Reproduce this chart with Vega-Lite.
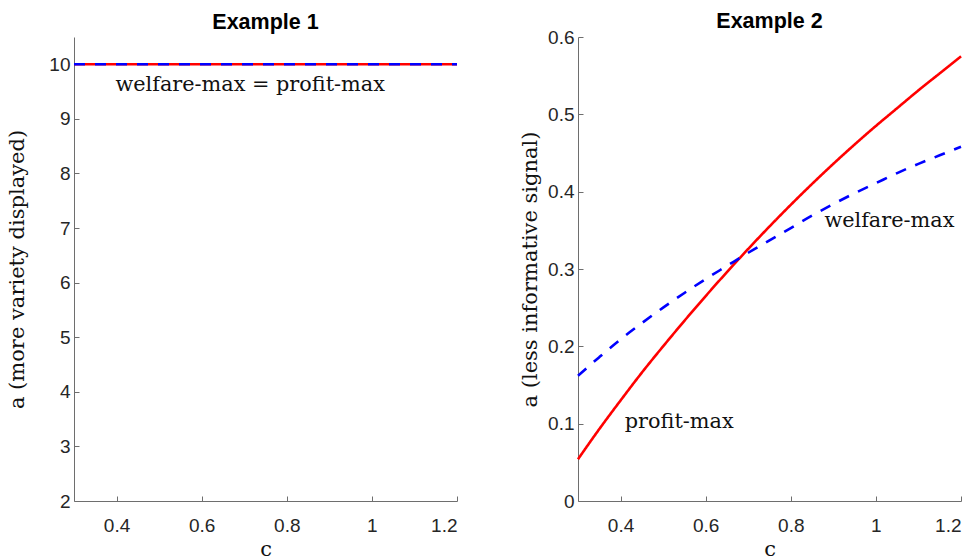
{
  "$schema": "https://vega.github.io/schema/vega-lite/v6.json",
  "background": "white",
  "padding": {"left": 5, "top": 10, "right": 5, "bottom": 0},
  "spacing": 55,
  "datasets": {
    "ex1": [
      {"c": 0.3, "a": 10, "series": "profit-max"},
      {"c": 1.2, "a": 10, "series": "profit-max"},
      {"c": 0.3, "a": 10, "series": "welfare-max"},
      {"c": 1.2, "a": 10, "series": "welfare-max"}
    ],
    "ex2": [
      {"c": 0.30, "a": 0.054, "series": "profit-max"},
      {"c": 0.35, "a": 0.093, "series": "profit-max"},
      {"c": 0.40, "a": 0.130, "series": "profit-max"},
      {"c": 0.45, "a": 0.166, "series": "profit-max"},
      {"c": 0.50, "a": 0.200, "series": "profit-max"},
      {"c": 0.55, "a": 0.233, "series": "profit-max"},
      {"c": 0.60, "a": 0.265, "series": "profit-max"},
      {"c": 0.65, "a": 0.296, "series": "profit-max"},
      {"c": 0.70, "a": 0.326, "series": "profit-max"},
      {"c": 0.75, "a": 0.355, "series": "profit-max"},
      {"c": 0.80, "a": 0.383, "series": "profit-max"},
      {"c": 0.85, "a": 0.410, "series": "profit-max"},
      {"c": 0.90, "a": 0.436, "series": "profit-max"},
      {"c": 0.95, "a": 0.461, "series": "profit-max"},
      {"c": 1.00, "a": 0.485, "series": "profit-max"},
      {"c": 1.05, "a": 0.508, "series": "profit-max"},
      {"c": 1.10, "a": 0.531, "series": "profit-max"},
      {"c": 1.15, "a": 0.553, "series": "profit-max"},
      {"c": 1.20, "a": 0.575, "series": "profit-max"},
      {"c": 0.30, "a": 0.162, "series": "welfare-max"},
      {"c": 0.35, "a": 0.186, "series": "welfare-max"},
      {"c": 0.40, "a": 0.209, "series": "welfare-max"},
      {"c": 0.45, "a": 0.230, "series": "welfare-max"},
      {"c": 0.50, "a": 0.250, "series": "welfare-max"},
      {"c": 0.55, "a": 0.269, "series": "welfare-max"},
      {"c": 0.60, "a": 0.287, "series": "welfare-max"},
      {"c": 0.65, "a": 0.304, "series": "welfare-max"},
      {"c": 0.70, "a": 0.321, "series": "welfare-max"},
      {"c": 0.75, "a": 0.337, "series": "welfare-max"},
      {"c": 0.80, "a": 0.353, "series": "welfare-max"},
      {"c": 0.85, "a": 0.369, "series": "welfare-max"},
      {"c": 0.90, "a": 0.384, "series": "welfare-max"},
      {"c": 0.95, "a": 0.398, "series": "welfare-max"},
      {"c": 1.00, "a": 0.411, "series": "welfare-max"},
      {"c": 1.05, "a": 0.424, "series": "welfare-max"},
      {"c": 1.10, "a": 0.436, "series": "welfare-max"},
      {"c": 1.15, "a": 0.447, "series": "welfare-max"},
      {"c": 1.20, "a": 0.458, "series": "welfare-max"}
    ],
    "ann1": [{"c": 0.714, "a": 9.615, "label": "welfare-max = profit-max"}],
    "ann2": [
      {"c": 0.41, "a": 0.102, "label": "profit-max"},
      {"c": 0.879, "a": 0.362, "label": "welfare-max"}
    ]
  },
  "config": {
    "view": {"stroke": null},
    "axis": {
      "grid": false,
      "domainColor": "#6e6e6e",
      "tickColor": "#6e6e6e",
      "tickSize": -5,
      "labelFont": "Liberation Sans",
      "labelFontSize": 19,
      "labelColor": "#262626",
      "titleFont": "DejaVu Serif",
      "titleFontSize": 21,
      "titleFontWeight": "normal",
      "titleColor": "#111111"
    },
    "title": {"font": "Liberation Sans", "fontSize": 21.5, "fontWeight": "bold", "color": "#000000", "frame": "group"}
  },
  "hconcat": [
    {
      "title": {"text": "Example 1", "fontSize": 21.5, "font": "Liberation Sans", "fontWeight": "bold", "offset": 4},
      "width": 383,
      "height": 464,
      "layer": [
        {
          "data": {"name": "ex1"},
          "mark": {"type": "line", "strokeWidth": 2.6},
          "encoding": {
            "x": {"field": "c", "type": "quantitative", "scale": {"domain": [0.3, 1.2], "nice": false, "zero": false},
                  "axis": {"values": [0.4, 0.6, 0.8, 1, 1.2], "format": "~g", "title": "c", "labelFontSize": 19, "labelFont": "Liberation Sans", "titleFontSize": 21, "titleFont": "DejaVu Serif", "labelPadding": 20, "titleY": 54, "titleBaseline": "alphabetic"}},
            "y": {"field": "a", "type": "quantitative", "scale": {"domain": [2, 10.5], "nice": false, "zero": false},
                  "axis": {"values": [2, 3, 4, 5, 6, 7, 8, 9, 10], "format": "d", "title": "a (more variety displayed)", "labelFontSize": 19, "labelFont": "Liberation Sans", "titleFontSize": 21, "titleFont": "DejaVu Serif", "labelPadding": 9, "titleX": -57, "titleY": 232, "titleBaseline": "middle", "titleAlign": "center", "titleAngle": 270}},
            "color": {"field": "series", "type": "nominal", "scale": {"domain": ["profit-max", "welfare-max"], "range": ["#ff0000", "#0000ff"]}, "legend": null},
            "strokeDash": {"field": "series", "type": "nominal", "scale": {"domain": ["profit-max", "welfare-max"], "range": [[1, 0], [11, 10]]}, "legend": null}
          }
        },
        {
          "data": {"name": "ann1"},
          "mark": {"type": "text", "font": "DejaVu Serif", "fontSize": 20.8, "align": "center", "baseline": "middle", "color": "#111111"},
          "encoding": {
            "x": {"field": "c", "type": "quantitative"},
            "y": {"field": "a", "type": "quantitative"},
            "text": {"field": "label"}
          }
        }
      ]
    },
    {
      "title": {"text": "Example 2", "fontSize": 21.5, "font": "Liberation Sans", "fontWeight": "bold", "offset": -4},
      "width": 383,
      "height": 464,
      "layer": [
        {
          "data": {"name": "ex2"},
          "mark": {"type": "line", "strokeWidth": 2.6, "interpolate": "monotone"},
          "encoding": {
            "x": {"field": "c", "type": "quantitative", "scale": {"domain": [0.3, 1.2], "nice": false, "zero": false},
                  "axis": {"values": [0.4, 0.6, 0.8, 1, 1.2], "format": "~g", "title": "c", "labelFontSize": 19, "labelFont": "Liberation Sans", "titleFontSize": 21, "titleFont": "DejaVu Serif", "labelPadding": 20, "titleY": 54, "titleBaseline": "alphabetic"}},
            "y": {"field": "a", "type": "quantitative", "scale": {"domain": [0, 0.6], "nice": false},
                  "axis": {"values": [0, 0.1, 0.2, 0.3, 0.4, 0.5, 0.6], "format": "~g", "title": "a (less informative signal)", "labelFontSize": 19, "labelFont": "Liberation Sans", "titleFontSize": 21, "titleFont": "DejaVu Serif", "labelPadding": 9, "titleX": -48, "titleY": 232, "titleBaseline": "middle", "titleAlign": "center", "titleAngle": 270}},
            "color": {"field": "series", "type": "nominal", "scale": {"domain": ["profit-max", "welfare-max"], "range": ["#ff0000", "#0000ff"]}, "legend": null},
            "strokeDash": {"field": "series", "type": "nominal", "scale": {"domain": ["profit-max", "welfare-max"], "range": [[1, 0], [11, 10]]}, "legend": null}
          }
        },
        {
          "data": {"name": "ann2"},
          "mark": {"type": "text", "font": "DejaVu Serif", "fontSize": 20.8, "align": "left", "baseline": "middle", "color": "#111111"},
          "encoding": {
            "x": {"field": "c", "type": "quantitative"},
            "y": {"field": "a", "type": "quantitative"},
            "text": {"field": "label"}
          }
        }
      ]
    }
  ]
}
